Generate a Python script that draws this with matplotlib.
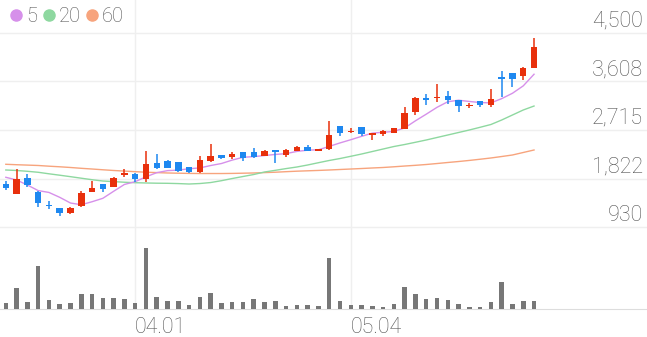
import numpy as np
import matplotlib
matplotlib.use('Agg')
import matplotlib.pyplot as plt
from matplotlib.lines import Line2D

plt.rcParams['font.family'] = ['Roboto', 'DejaVu Sans']

# daily candles
opens = [1730, 1532, 1826, 1580, 1335, 1274, 1193, 1322, 1574, 1721,
         1672, 1887, 1905, 1808, 2113, 2144, 2126, 2034, 1937, 2144,
         2249, 2213, 2316, 2305, 2242, 2352, 2255, 2334, 2408, 2323,
         2365, 2789, 2673, 2770, 2628, 2636, 2665, 2733, 3037, 3298,
         3298, 3341, 3267, 3151, 3249, 3170, 3696, 3758, 3714, 3850]
highs = [1776, 1992, 1900, 1598, 1408, 1274, 1298, 1598, 1771, 1721,
         1856, 2003, 1918, 2334, 2268, 2163, 2132, 2034, 2237, 2457,
         2249, 2310, 2316, 2384, 2338, 2352, 2360, 2420, 2433, 2365,
         2881, 2789, 2757, 2770, 2665, 2709, 2757, 3144, 3331, 3372,
         3556, 3433, 3267, 3217, 3249, 3464, 3806, 3758, 3880, 4402]
lows = [1611, 1530, 1672, 1304, 1261, 1132, 1178, 1292, 1574, 1580,
        1666, 1845, 1764, 1764, 1992, 2010, 1942, 1930, 1930, 2121,
        2176, 2176, 2150, 2205, 2237, 2113, 2213, 2323, 2323, 2323,
        2347, 2605, 2665, 2605, 2531, 2605, 2654, 2728, 2991, 3175,
        3236, 3193, 3052, 3114, 3144, 3144, 3328, 3512, 3635, 3850]
closes = [1640, 1808, 1703, 1366, 1311, 1193, 1280, 1550, 1642, 1624,
          1837, 1911, 1808, 2084, 2010, 2021, 1960, 1937, 2157, 2231,
          2205, 2273, 2200, 2218, 2329, 2305, 2347, 2408, 2329, 2365,
          2617, 2665, 2702, 2641, 2665, 2691, 2746, 3022, 3298, 3273,
          3322, 3262, 3162, 3181, 3175, 3291, 3653, 3653, 3861, 4248]

# moving averages as drawn
ma5 = [1845, 1795, 1703, 1600, 1566, 1476, 1371, 1340, 1395, 1458,
       1587, 1713, 1764, 1853, 1930, 1967, 1977, 2002, 2017, 2061,
       2098, 2161, 2213, 2225, 2245, 2265, 2280, 2321, 2344, 2351,
       2413, 2477, 2536, 2598, 2658, 2673, 2689, 2753, 2884, 3006,
       3132, 3235, 3263, 3240, 3220, 3214, 3292, 3391, 3527, 3741]
ma20 = [1979, 1970, 1955, 1937, 1909, 1883, 1856, 1828, 1800, 1776,
        1765, 1754, 1745, 1740, 1736, 1734, 1729, 1721, 1730, 1748,
        1782, 1822, 1859, 1896, 1942, 1973, 2005, 2034, 2071, 2113,
        2154, 2190, 2231, 2273, 2319, 2365, 2411, 2448, 2489, 2531,
        2577, 2623, 2669, 2715, 2765, 2816, 2899, 2991, 3083, 3156]
ma60 = [2084, 2076, 2069, 2062, 2049, 2038, 2025, 2010, 1997, 1983,
        1970, 1959, 1948, 1938, 1931, 1924, 1920, 1916, 1914, 1914,
        1914, 1916, 1920, 1924, 1931, 1938, 1948, 1957, 1964, 1971,
        1979, 1988, 1997, 2006, 2016, 2025, 2038, 2052, 2065, 2080,
        2098, 2117, 2135, 2155, 2177, 2200, 2227, 2255, 2301, 2347]

volume = [17, 64, 21, 129, 28, 15, 18, 46, 45, 32,
          32, 29, 19, 184, 37, 25, 25, 13, 36, 47,
          17, 20, 20, 30, 22, 25, 9, 13, 13, 8,
          154, 23, 13, 13, 10, 7, 15, 65, 45, 30,
          34, 28, 16, 7, 7, 22, 82, 16, 24, 24]

price_ticks = [930, 1822, 2715, 3608, 4500]
date_idx = [12, 32]
date_labels = ['04.01', '05.04']

RED = '#e8300c'
BLUE = '#1e88f0'
GRID = '#efefef'
TXT = '#555555'

W, H = 647, 337
fig = plt.figure(figsize=(W / 100, H / 100), dpi=100)
ax = fig.add_axes([0, (H - 237) / H, 1, 237 / H])
axv = fig.add_axes([0, (H - 309) / H, 1, 72 / H])

x = np.arange(len(closes))
o = np.array(opens); c = np.array(closes)
up = c >= o
col = np.where(up, RED, BLUE)

ax.vlines(x, lows, highs, colors=col, linewidth=1.1, zorder=3)
body = np.maximum(np.abs(c - o), 28)
ax.bar(x, body, bottom=np.minimum(o, c), width=0.6, color=col, zorder=3)

ax.plot(x, ma60, color='#f7a47d', lw=1.0, zorder=2)
ax.plot(x, ma20, color='#8ed8a0', lw=1.0, zorder=2)
ax.plot(x, ma5, color='#d690ea', lw=1.0, zorder=2)

xlim = (-0.54, 59.48)
ax.set_xlim(*xlim)
ax.set_ylim(746, 5107)
ax.set_yticks(price_ticks)
ax.set_yticklabels([])
ax.set_xticks(date_idx)
ax.set_xticklabels([])
ax.grid(True, color=GRID, lw=1.0)
ax.tick_params(length=0)
for s in ax.spines.values():
    s.set_visible(False)
for v in price_ticks:
    ax.annotate(f'{v:,}', xy=(1, v), xycoords=('axes fraction', 'data'),
                xytext=(-3, 4.5), textcoords='offset points',
                ha='right', va='baseline', fontsize=15.5, color=TXT,
                fontweight='light')

# legend
handles = [Line2D([], [], ls='', marker='o', ms=8, color=cc)
           for cc in ['#d690ea', '#8ed8a0', '#f7a47d']]
ax.legend(handles, ['5', '20', '60'], loc='upper left', bbox_to_anchor=(-0.012, 1.045),
          ncol=3, frameon=False, handlelength=0.6, handletextpad=0.2,
          columnspacing=0.25, labelcolor='#555555', prop={'weight': 'light', 'size': 14.5})

# volume
axv.bar(x, volume, width=0.42, color='#777777', zorder=3)
axv.set_xlim(*xlim)
axv.set_ylim(0, 216)
axv.set_yticks([])
axv.set_xticks(date_idx)
axv.set_xticklabels(date_labels, ha='left', fontsize=15.5, color=TXT, fontweight='light')
axv.tick_params(length=0, pad=6)
axv.grid(True, axis='x', color=GRID, lw=1.0)
for s in ['top', 'left', 'right']:
    axv.spines[s].set_visible(False)
axv.spines['bottom'].set_color('#dddddd')
axv.patch.set_alpha(0)

fig.savefig('out.png', dpi=100)
